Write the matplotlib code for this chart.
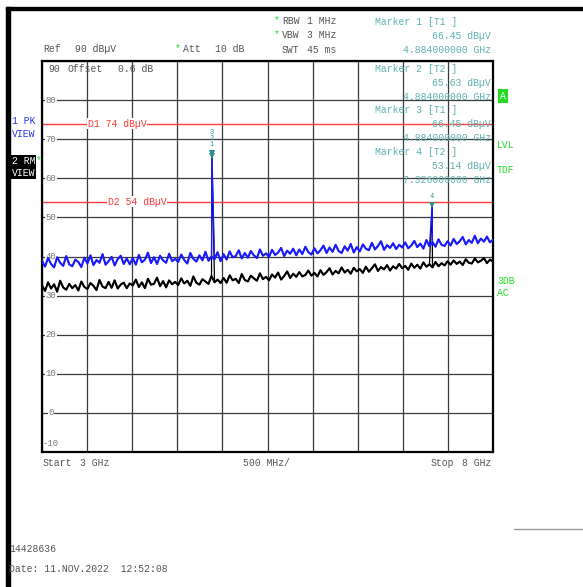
import numpy as np
import matplotlib.pyplot as plt
from matplotlib.patches import Rectangle

# trace 1 (max peak) and trace 2 (rms), 15 points per 500 MHz division, 3 .. 8 GHz
pk_trace = [
    38.9, 37.4, 39.6, 38.1, 37.2, 39.8, 38.4, 37.6, 40.1, 38.0, 37.5, 39.2, 38.6, 37.3, 39.7,
    38.2, 40.3, 37.8, 39.1, 38.4, 40.6, 37.9, 38.8, 39.9, 37.7, 39.3, 40.2, 38.1, 39.5, 38.0,
    39.6, 37.9, 40.4, 38.5, 39.2, 41.0, 38.3, 39.8, 38.1, 40.2, 39.0, 38.4, 40.7, 38.8, 39.4,
    38.6, 40.5, 39.1, 38.2, 40.9, 39.4, 38.7, 40.3, 39.0, 41.2, 38.9, 40.0, 39.3, 41.1, 38.8,
    40.6, 39.2, 41.3, 39.8, 40.1, 41.6, 39.5, 40.9, 39.7, 41.4, 40.3, 39.6, 41.8, 40.2, 40.8,
    39.9, 41.7, 40.4, 41.0, 42.2, 40.1, 41.5, 40.7, 42.0, 40.3, 41.8, 40.6, 42.5, 41.1, 40.5,
    42.1, 40.8, 41.6, 42.8, 40.9, 42.3, 41.2, 43.0, 41.4, 40.9, 42.6, 41.5, 43.2, 41.0, 42.4,
    41.3, 43.1, 42.0, 41.6, 43.5, 41.8, 42.7, 43.9, 41.7, 42.9, 42.2, 43.4, 41.9, 43.0, 42.3,
    43.6, 42.1, 42.8, 44.0, 42.4, 43.3, 42.0, 44.2, 42.6, 43.7, 42.5, 44.4, 43.0, 42.7, 43.9,
    42.8, 44.5, 43.2, 43.9, 45.0, 43.1, 44.2, 43.5, 45.3, 43.4, 44.6, 43.8, 45.1, 43.6, 44.3,
]
rm_trace = [
    32.6, 31.2, 33.4, 31.8, 32.9, 31.0, 33.8, 32.1, 31.5, 33.0, 31.9, 32.7, 31.3, 33.6, 32.2,
    31.7, 33.2, 32.5, 31.4, 34.0, 32.3, 31.9, 33.5, 32.0, 33.9, 31.8, 32.8, 33.3, 31.9, 33.1,
    32.6, 34.1, 32.2, 33.4, 31.9, 34.3, 32.8, 33.0, 34.6, 32.4, 33.7, 32.1, 33.9, 32.9, 33.5,
    32.7, 34.4, 33.1, 33.8, 32.5, 34.9, 33.3, 32.8, 34.2, 33.6, 33.0, 35.0, 33.4, 34.1, 33.2,
    34.5, 33.3, 35.2, 33.9, 34.3, 33.2, 35.5, 34.0, 33.6, 35.1, 34.4, 33.8, 35.7, 34.2, 34.8,
    33.9, 35.4, 34.6, 35.9, 34.1, 35.0, 36.2, 34.5, 35.6, 34.8, 36.0, 34.9, 35.3, 36.4, 35.1,
    35.8, 34.9, 36.5, 35.3, 36.0, 37.0, 35.4, 36.3, 35.7, 37.2, 35.9, 36.6, 35.6, 37.1, 36.2,
    36.8, 35.8, 37.4, 36.1, 37.0, 38.0, 36.3, 37.3, 36.7, 37.8, 36.4, 37.5, 36.9, 38.1, 37.0,
    37.6, 36.6, 38.2, 37.1, 37.9, 36.9, 38.5, 37.4, 38.0, 37.2, 38.6, 37.5, 38.3, 37.7, 38.8,
    37.9, 39.0, 38.1, 38.7, 37.8, 39.3, 38.4, 38.2, 39.5, 38.5, 38.9, 39.6, 38.3, 39.2, 38.7,
]
pk_spike_freq = [4.884, 7.326]
pk_spike_level = [66.45, 53.4]
rm_spike_freq = [4.884, 7.326]
rm_spike_level = [65.63, 53.14]

marker_name = ["1", "2", "3", "4"]
marker_trace = ["T1", "T2", "T1", "T2"]
marker_freq = [4.884, 4.884, 4.884, 7.326]
marker_level = [66.45, 65.63, 66.45, 53.14]

line_name = ["D1", "D2"]
line_level = [74, 54]

W, H = 583, 587
FONT = "Liberation Mono"
GRAY = "#555555"
TEAL = "#5fb0b0"
GREEN = "#22dd22"
RED = "#ff3b3b"
BLUE = "#1a1aff"

fig = plt.figure(figsize=(W / 100, H / 100), dpi=100)


def ftext(x, y, s, color=GRAY, **kw):
    return fig.text(x / W, 1 - y / H, s, color=color, fontsize=7, family=FONT,
                    va="center", **kw)


def with_spikes(trace, sf, sl):
    f = np.concatenate([np.linspace(3, 8, len(trace)), sf])
    v = np.concatenate([trace, sl])
    o = np.argsort(f, kind="stable")
    return f[o], v[o]


ax = fig.add_axes([42 / W, 1 - 452 / H, 451 / W, 391 / H])
ax.set_xlim(3, 8)
ax.set_ylim(-10, 90)
ax.set_xticks(np.arange(3, 8.01, 0.5))
ax.set_yticks(np.arange(-10, 91, 10))
ax.grid(color="#3a3a3a", lw=0.9)
ax.tick_params(length=0, labelbottom=False, labelleft=False)
for s in ax.spines.values():
    s.set_linewidth(1.6)

# thin line carries the spikes, thicker line gives the noise band its body
for trace, sf, sl, col, z in [(rm_trace, rm_spike_freq, rm_spike_level, "black", 3),
                              (pk_trace, pk_spike_freq, pk_spike_level, BLUE, 4)]:
    f, v = with_spikes(trace, sf, sl)
    ax.plot(f, v, color=col, lw=0.9, zorder=z)
    ax.plot(np.linspace(3, 8, len(trace)), trace, color=col, lw=1.5, zorder=z)

for name, lvl, xl in zip(line_name, line_level, [3.51, 3.73]):
    ax.axhline(lvl, color=RED, lw=1.0, zorder=2)
    ax.text(xl, lvl, f"{name} {lvl} dBµV", color=RED, fontsize=7, family=FONT,
            va="center", bbox=dict(fc="white", ec="none", pad=0.5), zorder=2.5)

ax.plot(marker_freq, marker_level, "v", color="#2a9090", ms=4, mew=0, zorder=5)
# marker numbers stacked when several markers sit on the same frequency
seen = {}
for name, fq, lvl in zip(marker_name, marker_freq, marker_level):
    k = seen.get(fq, 0)
    seen[fq] = k + 1
    top = max(l for q, l in zip(marker_freq, marker_level) if q == fq)
    ax.annotate(name, (fq, top), xytext=(0, 6 + 4.5 * k), textcoords="offset points",
                ha="center", va="center", color="#2a9090", fontsize=5, family=FONT, zorder=5)

for yv in range(0, 90, 10):
    ax.text(3.1, yv, str(yv), ha="center", va="center", color="#777777", fontsize=6.5,
            family=FONT, bbox=dict(fc="white", ec="none", pad=0.4), zorder=2.6)
ax.text(3.1, -7.7, "-10", ha="center", va="center", color="#777777", fontsize=6.5, family=FONT)

# frame of the screenshot
fig.patches.append(Rectangle((6 / W, 0), 4 / W, 1 - 7 / H, transform=fig.transFigure,
                             color="black", zorder=0))
fig.patches.append(Rectangle((6 / W, 1 - 10 / H), 1 - 6 / W, 3 / H, transform=fig.transFigure,
                             color="black", zorder=0))
fig.lines.append(plt.Line2D([514 / W, 1], [1 - 529 / H, 1 - 529 / H], transform=fig.transFigure,
                            color="#999999", lw=1))

# header
ftext(43, 49, "Ref")
ftext(75, 49, "90 dBµV")
ftext(175, 48, "*", color=GREEN)
ftext(183, 49, "Att")
ftext(215, 49, "10 dB")
ftext(274, 20, "*", color=GREEN)
ftext(282, 21, "RBW")
ftext(307, 21, "1 MHz")
ftext(274, 34, "*", color=GREEN)
ftext(282, 35, "VBW")
ftext(307, 35, "3 MHz")
ftext(282, 50, "SWT")
ftext(307, 50, "45 ms")
ftext(48, 69, "90")
ftext(67, 69, "Offset")
ftext(118, 69, "0.6 dB")

# marker readout
ys = [22, 69, 110, 152]
for name, tr, fq, lvl, y in zip(marker_name, marker_trace, marker_freq, marker_level, ys):
    ftext(375, y, f"Marker {name} [{tr} ]", color=TEAL)
    ftext(491, y + 14, f"{lvl:.2f} dBµV", color=TEAL, ha="right")
    ftext(491, y + 28, f"{fq:.9f} GHz", color=TEAL, ha="right")

# left side trace info
ftext(12, 121, "1 PK", color="#2233ee")
ftext(12, 134, "VIEW", color="#2233ee")
ftext(12, 161, "2 RM", color="white", bbox=dict(fc="black", ec="none", pad=0.6))
ftext(36, 160, "*", color=GREEN)
ftext(12, 173, "VIEW", color="white", bbox=dict(fc="black", ec="none", pad=0.6))

# right side status
ftext(500, 96, "A", color="white", bbox=dict(fc=GREEN, ec="none", pad=1.5))
ftext(497, 145, "LVL", color=GREEN)
ftext(497, 170, "TDF", color=GREEN)
ftext(497, 281, "3DB", color=GREEN)
ftext(497, 293, "AC", color=GREEN)

# footer
ftext(43, 463, "Start")
ftext(80, 463, "3 GHz")
ftext(243, 463, "500 MHz/")
ftext(431, 463, "Stop")
ftext(491, 463, "8 GHz", ha="right")
ftext(9, 549, "14428636")
ftext(9, 569, "Date: 11.NOV.2022  12:52:08")

fig.savefig("out.png", dpi=100)
